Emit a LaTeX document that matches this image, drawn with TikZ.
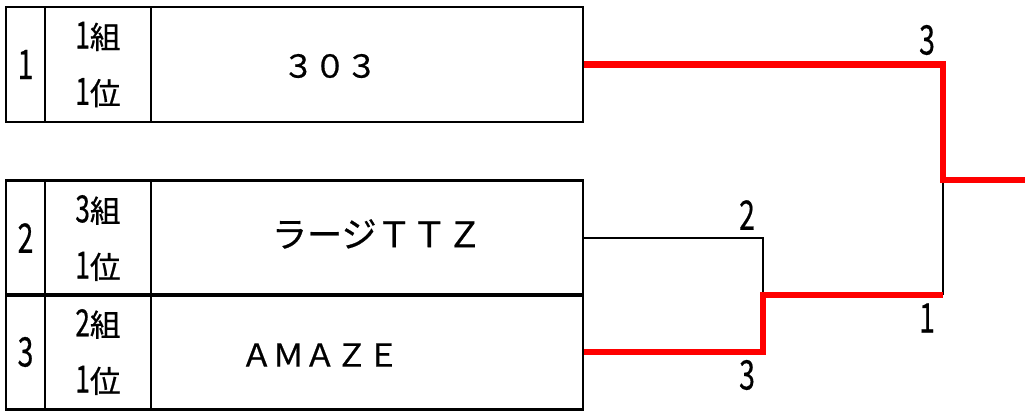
\documentclass[tikz,border=0pt]{standalone}
\usepackage{fontspec}
\setmainfont{Noto Sans CJK JP}[FakeBold=0.6]
\usepackage{graphicx}
\usepackage{tikz}
\usetikzlibrary{positioning}

% narrow, tall digits
\newcommand{\tdig}[1]{\scalebox{0.85}[1.22]{#1}}

\begin{document}
\begin{tikzpicture}[
  x=0.02cm, y=-0.02cm,
  C/.style={draw, line width=1.6pt, minimum height=2.3cm,
            inner sep=0pt, text centered},
  Cn/.style={C, minimum width=0.78cm,
             font=\fontsize{19}{19}\selectfont},
  Cg/.style={C, minimum width=2.12cm, align=center,
             font=\fontsize{17.5}{32}\selectfont},
  Ct/.style={C, minimum width=8.64cm},
  nm/.style={inner sep=0pt, font=\fontsize{18}{18}\selectfont},
  lose/.style={line width=1.4pt, black},
  win/.style={line width=3.7pt, red},
  sc/.style={font=\fontsize{19}{19}\selectfont, inner sep=0pt},
]
\useasboundingbox (0,0) rectangle (1025,412);

%% ---- Entry 1 ----
\node[Cn] (n1) at ( 25.5, 64.5) {\tdig{1}};
\node[Cg] (g1) at ( 98.0, 64.5) {\tdig{1}組\\\tdig{1}位};
\node[Ct] (t1) at (367.0, 64.5) {};
\node[nm] (m1) at (330, 66) {３０３};

%% ---- Entry 2 ----
\node[Cn] (n2) at ( 25.5,238) {\tdig{2}};
\node[Cg] (g2) at ( 98.0,238) {\tdig{3}組\\\tdig{1}位};
\node[Ct] (t2) at (367.0,238) {};
\node[nm, font=\fontsize{20}{20}\selectfont] (m2) at (377,234) {ラージＴＴＺ};

%% ---- Entry 3 ----
\node[Cn] (n3) at ( 25.5,352) {\tdig{3}};
\node[Cg] (g3) at ( 98.0,352) {\tdig{2}組\\\tdig{1}位};
\node[Ct] (t3) at (367.0,352) {};
\node[nm] (m3) at (320,355) {ＡＭＡＺＥ};

%% ---- Bracket corners ----
\coordinate (q1)  at (763,295);
\coordinate (r1)  at (943,180);
\coordinate (r2)  at (943,295);
\coordinate (out) at (1025,180);

% losers first, winners on top
\draw[lose] (t2.east) -| (q1);
\draw[lose] (r1) -- (r2);
\draw[win] (t3.east) -| (q1) -- (r2);
\draw[win] (t1.east) -| (r1) -- (out);

%% ---- Scores ----
\node[sc] (s1) at (927, 40) {\tdig{3}};
\node[sc] (s2) at (747,215) {\tdig{2}};
\node[sc] (s3) at (747,375) {\tdig{3}};
\node[sc] (s4) at (927,318) {\tdig{1}};

\end{tikzpicture}
\end{document}
